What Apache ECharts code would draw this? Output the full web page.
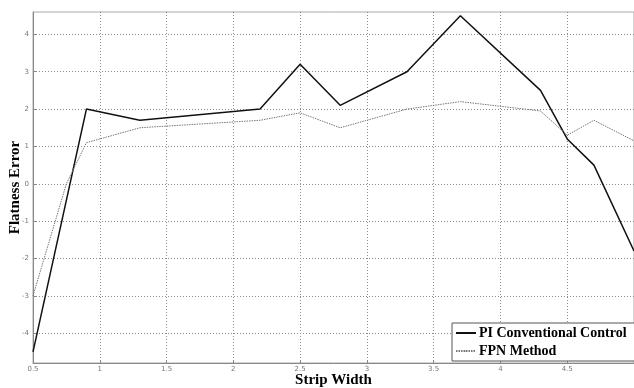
<!DOCTYPE html>
<html>
<head>
<meta charset="utf-8">
<script src="https://cdn.jsdelivr.net/npm/echarts@6/dist/echarts.min.js"></script>
<style>html,body{margin:0;padding:0;background:#fff}#c{width:634px;height:388px}</style>
</head>
<body>
<div id="c"></div>
<script>
var piData = [[0.5,-4.5],[0.9,2.0],[1.3,1.7],[2.2,2.0],[2.5,3.2],[2.8,2.1],[3.3,3.0],[3.7,4.5],[4.3,2.5],[4.5,1.2],[4.7,0.5],[5.0,-1.8]];
var fpnData = [[0.5,-3.0],[0.75,0.0],[0.9,1.1],[1.3,1.5],[2.2,1.7],[2.5,1.9],[2.8,1.5],[3.3,2.0],[3.7,2.2],[4.3,1.95],[4.5,1.3],[4.7,1.7],[5.0,1.15]];
var yTicks = [-4,-3,-2,-1,0,1,2,3,4];
var seriesNames = ['PI Conventional Control','FPN Method'];

var chart = echarts.init(document.getElementById('c'));
var gridLine = {show:true, lineStyle:{color:'#8c8c8c', type:[1,2], width:1}};
chart.setOption({
  animation:false,
  backgroundColor:'#fff',
  grid:{left:33, right:0, top:12, bottom:25, show:true, borderColor:'#aaa', borderWidth:1, containLabel:false, outerBoundsMode:'none'},
  legend:{
    left:452, top:323, orient:'vertical',
    backgroundColor:'#fff', borderColor:'#555', borderWidth:1,
    padding:[3,8,3,3], itemGap:4, itemWidth:20, itemHeight:2,
    textStyle:{fontFamily:'Liberation Serif', fontWeight:'bold', fontSize:14, color:'#000', padding:[0,0,0,-2]},
    data:seriesNames
  },
  xAxis:{
    type:'value', min:0.5, max:5, interval:0.5,
    name:'Strip Width', nameLocation:'middle', nameGap:10, nameMoveOverlap:false,
    nameTextStyle:{fontFamily:'Liberation Serif', fontWeight:'bold', fontSize:15, color:'#000'},
    axisLine:{onZero:false, lineStyle:{color:'#888'}},
    axisTick:{show:true, inside:true, length:3, lineStyle:{color:'#888'}},
    axisLabel:{fontSize:7, color:'#777', margin:3, showMaxLabel:false, fontFamily:'DejaVu Sans'},
    splitLine:gridLine
  },
  yAxis:{
    type:'value', min:-4.8, max:4.6,
    name:'Flatness Error', nameLocation:'middle', nameGap:10, nameMoveOverlap:false,
    nameTextStyle:{fontFamily:'Liberation Serif', fontWeight:'bold', fontSize:15, color:'#000'},
    axisLine:{show:true, onZero:false, lineStyle:{color:'#888'}},
    axisTick:{show:true, inside:true, length:3, lineStyle:{color:'#888'}, customValues:yTicks},
    axisLabel:{fontSize:7, color:'#777', margin:4, customValues:yTicks, fontFamily:'DejaVu Sans'},
    splitLine:gridLine
  },
  series:[
    {name:seriesNames[0], type:'line', data:piData, symbol:'none', lineStyle:{color:'#111', width:1.5}, itemStyle:{color:'#111'}},
    {name:seriesNames[1], type:'line', data:fpnData, symbol:'none', lineStyle:{color:'#777', width:1, type:[1.5,1]}, itemStyle:{color:'#777'}}
  ]
});
</script>
</body>
</html>
